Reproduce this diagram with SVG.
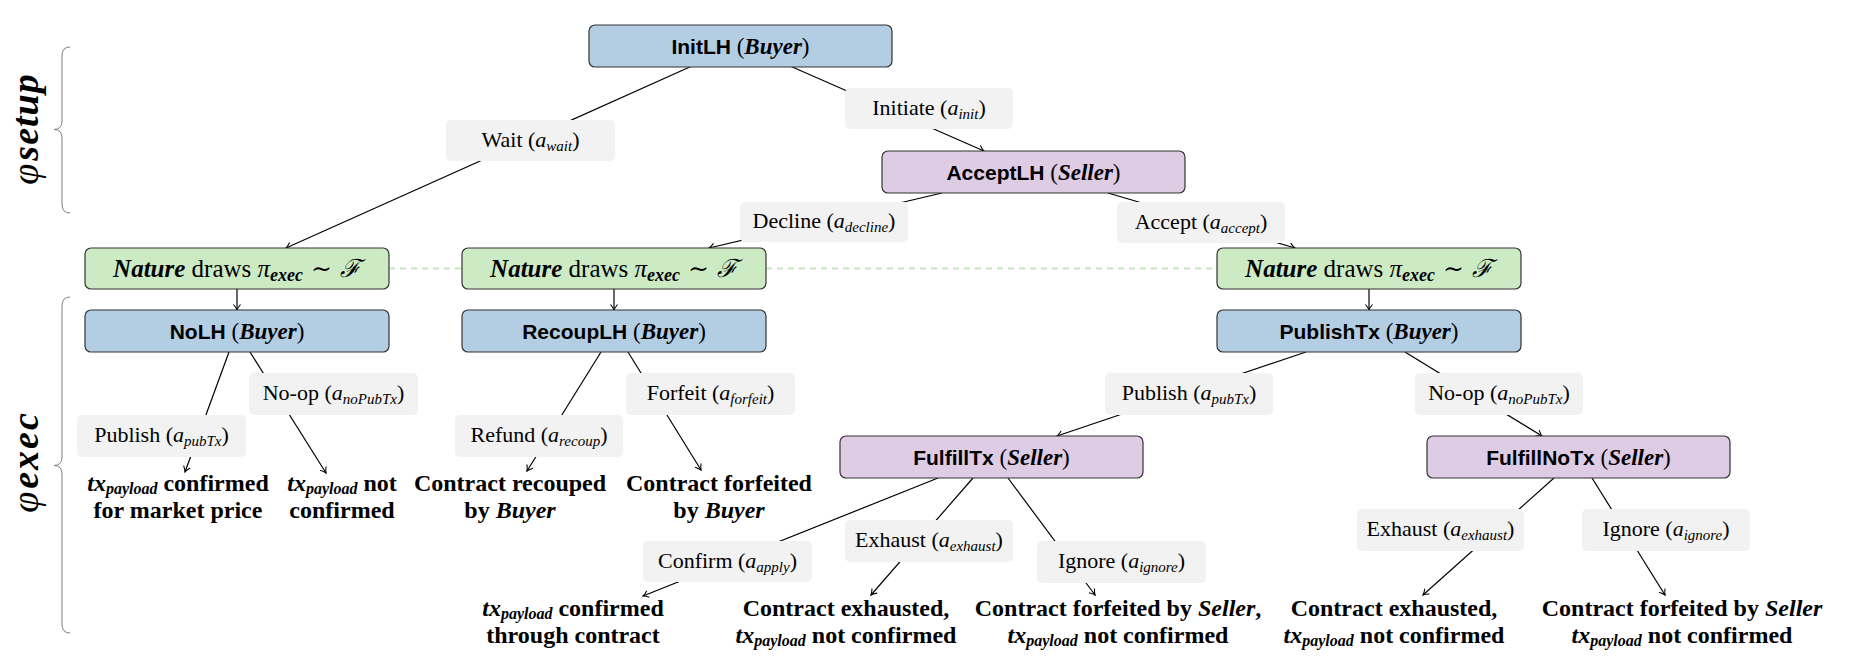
<svg xmlns="http://www.w3.org/2000/svg" width="1857" height="672" viewBox="0 0 1857 672">
<style>
.box{stroke:#333;stroke-width:1.2}
.blue{fill:#b3cde3}.purple{fill:#decbe4}.green{fill:#ccebc5}
.lbl{fill:#f2f2f2}
.edge{stroke:#000;stroke-width:1.2;fill:none;marker-end:url(#arr)}
.dash{stroke:#c6e6bd;stroke-width:2;stroke-dasharray:6 5;fill:none}
.brace{stroke:#808080;stroke-width:1;fill:none}
text{font-family:"Liberation Serif","Times New Roman",serif;fill:#000}
.nt{font-size:23px;text-anchor:middle}
.sf{font-family:"Liberation Sans",Arial,sans-serif;font-weight:bold;font-size:21px}
.bi{font-weight:bold;font-style:italic}
.it{font-style:italic}
.lt{font-size:22px;text-anchor:middle}
.sub{font-size:15px;font-style:italic}
.leaf{font-size:24px;font-weight:bold;text-anchor:middle}
.lsub{font-size:16px;font-style:italic;font-weight:bold}
.nat{font-size:25px;text-anchor:middle}
.phase{font-size:38px;text-anchor:middle}
.sym{font-family:"DejaVu Serif","Liberation Serif",serif;font-weight:normal}
</style>
<defs>
<marker id="arr" viewBox="-7 -5 8 10" markerWidth="8" markerHeight="10" refX="0" refY="0" orient="auto" markerUnits="userSpaceOnUse">
<path d="M-5.5,-3.5 Q-2,-0.6 0,0 Q-2,0.6 -5.5,3.5" fill="none" stroke="#000" stroke-width="1.1"/>
</marker>
</defs>

<g id="phases">
<path class="brace" d="M70,47 Q62,47 62,56 L62,121 Q62,129.5 54,129.5 Q62,129.5 62,138 L62,204 Q62,213 70,213"/>
<text class="phase" transform="translate(38,129) rotate(-90)"><tspan class="it">φ</tspan><tspan class="bi" dx="3" letter-spacing="1">setup</tspan></text>
<path class="brace" d="M70,297 Q62,297 62,306 L62,457 Q62,465.5 54,465.5 Q62,465.5 62,474 L62,624 Q62,633 70,633"/>
<text class="phase" transform="translate(38,462) rotate(-90)"><tspan class="it">φ</tspan><tspan class="bi" dx="3" letter-spacing="2">exec</tspan></text>
</g>

<g id="connectors">
<path class="dash" d="M389,268.5 H462 M766,268.5 H1217"/>
<path class="edge" d="M692,66 L286,248"/>
<path class="edge" d="M790,66 L984,151"/>
<path class="edge" d="M942,193 L709,248"/>
<path class="edge" d="M1108,193 L1295,248"/>
<path class="edge" d="M237,289 L237,310"/>
<path class="edge" d="M614,289 L614,310"/>
<path class="edge" d="M1369,289 L1369,310"/>
<path class="edge" d="M229,352 L185,472"/>
<path class="edge" d="M250,352 L326,473"/>
<path class="edge" d="M601,352 L527,471"/>
<path class="edge" d="M628,352 L701,470"/>
<path class="edge" d="M1306,352 L1057,436"/>
<path class="edge" d="M1405,352 L1542,436"/>
<path class="edge" d="M938,478 L643,596"/>
<path class="edge" d="M973,478 L871,595"/>
<path class="edge" d="M1008,478 L1095,595"/>
<path class="edge" d="M1554,478 L1423,595"/>
<path class="edge" d="M1592,478 L1665,595"/>
</g>

<g id="edge-labels">
<g id="lbl-wait"><rect class="lbl" x="446" y="120" width="169" height="41" rx="5"/><text class="lt" x="530.5" y="147">Wait (<tspan class="it">a</tspan><tspan class="sub" dy="4">wait</tspan><tspan dy="-4">)</tspan></text></g>
<g id="lbl-initiate"><rect class="lbl" x="845" y="88" width="168" height="41" rx="5"/><text class="lt" x="929" y="115">Initiate (<tspan class="it">a</tspan><tspan class="sub" dy="4">init</tspan><tspan dy="-4">)</tspan></text></g>
<g id="lbl-decline"><rect class="lbl" x="740" y="202" width="168" height="40" rx="5"/><text class="lt" x="824" y="228">Decline (<tspan class="it">a</tspan><tspan class="sub" dy="4">decline</tspan><tspan dy="-4">)</tspan></text></g>
<g id="lbl-accept"><rect class="lbl" x="1117" y="202" width="168" height="41" rx="5"/><text class="lt" x="1201" y="229">Accept (<tspan class="it">a</tspan><tspan class="sub" dy="4">accept</tspan><tspan dy="-4">)</tspan></text></g>
<g id="lbl-publish1"><rect class="lbl" x="77" y="415" width="169" height="42" rx="5"/><text class="lt" x="161.5" y="442">Publish (<tspan class="it">a</tspan><tspan class="sub" dy="4">pubTx</tspan><tspan dy="-4">)</tspan></text></g>
<g id="lbl-noop1"><rect class="lbl" x="249" y="373" width="169" height="42" rx="5"/><text class="lt" x="333.5" y="400">No-op (<tspan class="it">a</tspan><tspan class="sub" dy="4">noPubTx</tspan><tspan dy="-4">)</tspan></text></g>
<g id="lbl-refund"><rect class="lbl" x="455" y="415" width="168" height="42" rx="5"/><text class="lt" x="539" y="442">Refund (<tspan class="it">a</tspan><tspan class="sub" dy="4">recoup</tspan><tspan dy="-4">)</tspan></text></g>
<g id="lbl-forfeit"><rect class="lbl" x="626" y="373" width="169" height="42" rx="5"/><text class="lt" x="710.5" y="400">Forfeit (<tspan class="it">a</tspan><tspan class="sub" dy="4">forfeit</tspan><tspan dy="-4">)</tspan></text></g>
<g id="lbl-publish2"><rect class="lbl" x="1105" y="373" width="168" height="42" rx="5"/><text class="lt" x="1189" y="400">Publish (<tspan class="it">a</tspan><tspan class="sub" dy="4">pubTx</tspan><tspan dy="-4">)</tspan></text></g>
<g id="lbl-noop2"><rect class="lbl" x="1415" y="373" width="168" height="42" rx="5"/><text class="lt" x="1499" y="400">No-op (<tspan class="it">a</tspan><tspan class="sub" dy="4">noPubTx</tspan><tspan dy="-4">)</tspan></text></g>
<g id="lbl-confirm"><rect class="lbl" x="643" y="541" width="169" height="41" rx="5"/><text class="lt" x="727.5" y="568">Confirm (<tspan class="it">a</tspan><tspan class="sub" dy="4">apply</tspan><tspan dy="-4">)</tspan></text></g>
<g id="lbl-exhaust1"><rect class="lbl" x="845" y="520" width="168" height="42" rx="5"/><text class="lt" x="929" y="547">Exhaust (<tspan class="it">a</tspan><tspan class="sub" dy="4">exhaust</tspan><tspan dy="-4">)</tspan></text></g>
<g id="lbl-ignore1"><rect class="lbl" x="1037" y="541" width="169" height="42" rx="5"/><text class="lt" x="1121.5" y="568">Ignore (<tspan class="it">a</tspan><tspan class="sub" dy="4">ignore</tspan><tspan dy="-4">)</tspan></text></g>
<g id="lbl-exhaust2"><rect class="lbl" x="1357" y="509" width="167" height="42" rx="5"/><text class="lt" x="1440.5" y="536">Exhaust (<tspan class="it">a</tspan><tspan class="sub" dy="4">exhaust</tspan><tspan dy="-4">)</tspan></text></g>
<g id="lbl-ignore2"><rect class="lbl" x="1582" y="509" width="168" height="42" rx="5"/><text class="lt" x="1666" y="536">Ignore (<tspan class="it">a</tspan><tspan class="sub" dy="4">ignore</tspan><tspan dy="-4">)</tspan></text></g>
</g>

<g id="InitLH"><rect class="box blue" x="589" y="25" width="303" height="42" rx="6"/><text class="nt" x="740.5" y="54"><tspan class="sf">InitLH</tspan> (<tspan class="bi">Buyer</tspan>)</text></g>
<g id="AcceptLH"><rect class="box purple" x="882" y="151" width="303" height="42" rx="6"/><text class="nt" x="1033.5" y="180"><tspan class="sf">AcceptLH</tspan> (<tspan class="bi">Seller</tspan>)</text></g>
<g id="Nature1"><rect class="box green" x="85" y="248" width="304" height="41" rx="6"/><text class="nat" x="237" y="277"><tspan class="bi">Nature</tspan> draws <tspan class="it">π</tspan><tspan class="bi" font-size="18" dy="4">exec</tspan><tspan class="sym" dy="-4"> ∼ </tspan><tspan class="sym it">ℱ</tspan></text></g>
<g id="Nature2"><rect class="box green" x="462" y="248" width="304" height="41" rx="6"/><text class="nat" x="614" y="277"><tspan class="bi">Nature</tspan> draws <tspan class="it">π</tspan><tspan class="bi" font-size="18" dy="4">exec</tspan><tspan class="sym" dy="-4"> ∼ </tspan><tspan class="sym it">ℱ</tspan></text></g>
<g id="Nature3"><rect class="box green" x="1217" y="248" width="304" height="41" rx="6"/><text class="nat" x="1369" y="277"><tspan class="bi">Nature</tspan> draws <tspan class="it">π</tspan><tspan class="bi" font-size="18" dy="4">exec</tspan><tspan class="sym" dy="-4"> ∼ </tspan><tspan class="sym it">ℱ</tspan></text></g>
<g id="NoLH"><rect class="box blue" x="85" y="310" width="304" height="42" rx="6"/><text class="nt" x="237" y="339"><tspan class="sf">NoLH</tspan> (<tspan class="bi">Buyer</tspan>)</text></g>
<g id="RecoupLH"><rect class="box blue" x="462" y="310" width="304" height="42" rx="6"/><text class="nt" x="614" y="339"><tspan class="sf">RecoupLH</tspan> (<tspan class="bi">Buyer</tspan>)</text></g>
<g id="PublishTx"><rect class="box blue" x="1217" y="310" width="304" height="42" rx="6"/><text class="nt" x="1369" y="339"><tspan class="sf">PublishTx</tspan> (<tspan class="bi">Buyer</tspan>)</text></g>
<g id="FulfillTx"><rect class="box purple" x="840" y="436" width="303" height="42" rx="6"/><text class="nt" x="991.5" y="465"><tspan class="sf">FulfillTx</tspan> (<tspan class="bi">Seller</tspan>)</text></g>
<g id="FulfillNoTx"><rect class="box purple" x="1427" y="436" width="303" height="42" rx="6"/><text class="nt" x="1578.5" y="465"><tspan class="sf">FulfillNoTx</tspan> (<tspan class="bi">Seller</tspan>)</text></g>

<g id="leaf-market"><text class="leaf" x="178" y="491"><tspan class="it">tx</tspan><tspan class="lsub" dy="3">payload</tspan><tspan dy="-3"> confirmed</tspan></text><text class="leaf" x="178" y="518">for market price</text></g>
<g id="leaf-notconf"><text class="leaf" x="342" y="491"><tspan class="it">tx</tspan><tspan class="lsub" dy="3">payload</tspan><tspan dy="-3"> not</tspan></text><text class="leaf" x="342" y="518">confirmed</text></g>
<g id="leaf-recouped"><text class="leaf" x="510" y="491">Contract recouped</text><text class="leaf" x="510" y="518">by <tspan class="it">Buyer</tspan></text></g>
<g id="leaf-forfeited-buyer"><text class="leaf" x="719" y="491">Contract forfeited</text><text class="leaf" x="719" y="518">by <tspan class="it">Buyer</tspan></text></g>
<g id="leaf-through"><text class="leaf" x="573" y="616"><tspan class="it">tx</tspan><tspan class="lsub" dy="3">payload</tspan><tspan dy="-3"> confirmed</tspan></text><text class="leaf" x="573" y="643">through contract</text></g>
<g id="leaf-exhausted1"><text class="leaf" x="846" y="616">Contract exhausted,</text><text class="leaf" x="846" y="643"><tspan class="it">tx</tspan><tspan class="lsub" dy="3">payload</tspan><tspan dy="-3"> not confirmed</tspan></text></g>
<g id="leaf-forfeited-seller1"><text class="leaf" x="1118" y="616">Contract forfeited by <tspan class="it">Seller</tspan>,</text><text class="leaf" x="1118" y="643"><tspan class="it">tx</tspan><tspan class="lsub" dy="3">payload</tspan><tspan dy="-3"> not confirmed</tspan></text></g>
<g id="leaf-exhausted2"><text class="leaf" x="1394" y="616">Contract exhausted,</text><text class="leaf" x="1394" y="643"><tspan class="it">tx</tspan><tspan class="lsub" dy="3">payload</tspan><tspan dy="-3"> not confirmed</tspan></text></g>
<g id="leaf-forfeited-seller2"><text class="leaf" x="1682" y="616">Contract forfeited by <tspan class="it">Seller</tspan></text><text class="leaf" x="1682" y="643"><tspan class="it">tx</tspan><tspan class="lsub" dy="3">payload</tspan><tspan dy="-3"> not confirmed</tspan></text></g>
</svg>
